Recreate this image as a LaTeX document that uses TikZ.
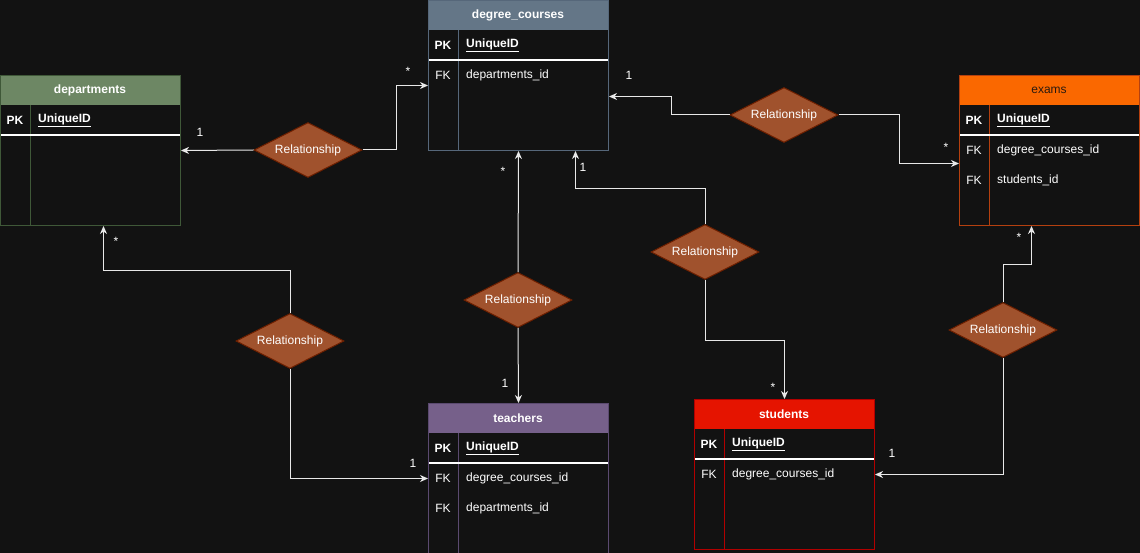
\documentclass[tikz,border=0pt]{standalone}
\usepackage{fontspec}
\setmainfont{Liberation Sans}
\usetikzlibrary{shapes.geometric,arrows.meta,calc}
\definecolor{bgc}{HTML}{121212}
\definecolor{linec}{HTML}{E8E8E8}
\definecolor{dcH}{HTML}{647687}\definecolor{dcB}{HTML}{56677A}
\definecolor{dpH}{HTML}{6D8764}\definecolor{dpB}{HTML}{3F5838}
\definecolor{exH}{HTML}{FA6800}\definecolor{exB}{HTML}{B4400F}\definecolor{exT}{HTML}{2A1A10}
\definecolor{teH}{HTML}{76608A}\definecolor{teB}{HTML}{5B4A70}
\definecolor{stH}{HTML}{E51400}\definecolor{stB}{HTML}{B20000}
\definecolor{relF}{HTML}{A0522D}\definecolor{relB}{HTML}{6D1F00}
\tikzset{
  x=1pt,y=-1pt,
  every node/.style={font=\fontsize{12pt}{14pt}\selectfont, inner sep=0pt},
  tablebox/.style={rectangle, line width=1pt, minimum width=180pt, minimum height=150pt},
  sepline/.style={white, line width=1.3pt},
  ttl/.style={font=\fontsize{12pt}{14pt}\selectfont\bfseries, text=white},
  pk/.style={font=\fontsize{12pt}{14pt}\selectfont\bfseries, text=white},
  fk/.style={text=white},
  fld/.style={text=white, anchor=west},
  rel/.style={diamond, draw=relB, fill=relF, line width=1pt, minimum width=108pt, minimum height=55pt, text=white, aspect=2},
  conn/.style={draw=linec, line width=1pt, -{Stealth[length=8pt,width=7pt,inset=2.5pt]}},
  card/.style={text=white},
}
\newcommand{\ertable}[6]{%
  \path[fill=#5] (#2,#3) rectangle ++(180,30);
  \draw[#6, line width=1pt] (#2+30,#3+30) -- (#2+30,#3+150);
  \draw[sepline] (#2,#3+60) -- ++(180,0);
  \node[tablebox, draw=#6, anchor=north west] (#1) at (#2,#3) {};
  \node[pk] (#1pk) at (#2+15,#3+45) {PK};
  \node[pk, anchor=west] (#1uid) at (#2+38,#3+45) {\underline{UniqueID}};
}
\begin{document}
\begin{tikzpicture}
\fill[bgc] (0,0) rectangle (1140,553);
\useasboundingbox (0,0) rectangle (1140,553);

% degree_courses
\ertable{dc}{428}{0}{150}{dcH}{dcB}
\node[ttl] (dct) at (518,15) {degree\_courses};
\node[fk] (dcf1) at (443,75) {FK};
\node[fld] (dcf1n) at (466,75) {departments\_id};

% departments
\ertable{dp}{0}{75}{150}{dpH}{dpB}
\node[ttl] (dpt) at (90,90) {departments};

% exams
\ertable{ex}{959}{75}{150}{exH}{exB}
\node[text=exT] (ext) at (1049,90) {exams};
\node[fk] (exf1) at (974,150) {FK};
\node[fld] (exf1n) at (997,150) {degree\_courses\_id};
\node[fk] (exf2) at (974,180) {FK};
\node[fld] (exf2n) at (997,180) {students\_id};

% teachers
\ertable{te}{428}{403}{150}{teH}{teB}
\node[ttl] (tet) at (518,418) {teachers};
\node[fk] (tef1) at (443,478) {FK};
\node[fld] (tef1n) at (466,478) {degree\_courses\_id};
\node[fk] (tef2) at (443,508) {FK};
\node[fld] (tef2n) at (466,508) {departments\_id};

% students
\ertable{st}{694}{399}{150}{stH}{stB}
\node[ttl] (stt) at (784,414) {students};
\node[fk] (stf1) at (709,474) {FK};
\node[fld] (stf1n) at (732,474) {degree\_courses\_id};

% relationships
\node[rel] (r1) at (308,150) {Relationship};
\node[rel] (r2) at (784,115) {Relationship};
\node[rel] (r3) at (518,300) {Relationship};
\node[rel] (r4) at (705,252) {Relationship};
\node[rel] (r5) at (290,341) {Relationship};
\node[rel] (r6) at (1003,330) {Relationship};

% connectors
\draw[conn] (r1.west) -- (dp.east);
\draw[conn] (r1.east) -| ($(dc.west)+(-32,10)$) -- ([yshift=-10pt]dc.west);

\draw[conn] (r2.west) -| ($(dc.east)+(62,21)$) -- ([yshift=-21pt]dc.east);
\draw[conn] (r2.east) -| ($(ex.west)+(-60,13)$) -- ([yshift=-13pt]ex.west);

\draw[conn] (r3.north) -- (dc.south);
\draw[conn] (r3.south) -- (te.north);

\draw[conn] (r4.north) |- ($(dc.south)+(57,38)$) -- ([xshift=57pt]dc.south);
\draw[conn] (r4.south) |- ($(st.north)+(0,-59)$) -- (st.north);

\draw[conn] (r5.north) |- ($(dp.south)+(13,45)$) -- ([xshift=13pt]dp.south);
\draw[conn] (r5.south) |- (te.west);

\draw[conn] (r6.north) |- ($(ex.south)+(-18,39)$) -- ([xshift=-18pt]ex.south);
\draw[conn] (r6.south) |- (st.east);

% cardinalities
\node[card] (c1) at (408,71) {*};
\node[card] (c2) at (200,132) {1};
\node[card] (c3) at (629,75) {1};
\node[card] (c4) at (946,147) {*};
\node[card] (c5) at (503,171) {*};
\node[card] (c6) at (505,383) {1};
\node[card] (c7) at (583,167) {1};
\node[card] (c8) at (773,387) {*};
\node[card] (c9) at (116,241) {*};
\node[card] (c10) at (413,463) {1};
\node[card] (c11) at (1019,237) {*};
\node[card] (c12) at (892,453) {1};
\end{tikzpicture}
\end{document}
